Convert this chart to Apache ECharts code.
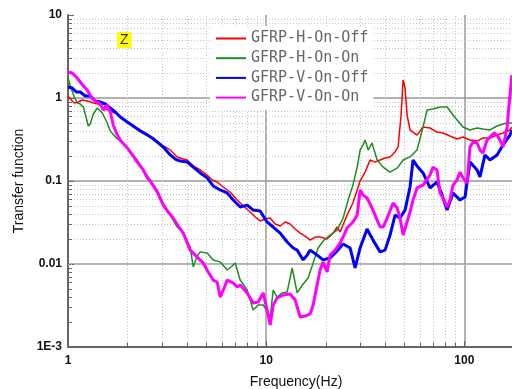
<!DOCTYPE html>
<html>
<head>
<meta charset="utf-8">
<script src="https://cdn.jsdelivr.net/npm/echarts@6/dist/echarts.min.js"></script>
<style>html,body{margin:0;padding:0;background:#fff}#c{width:512px;height:389px}</style>
</head>
<body>
<div id="c"></div>
<script>
// ---- data ----
var seriesNames = ['GFRP-H-On-Off', 'GFRP-H-On-On', 'GFRP-V-On-Off', 'GFRP-V-On-On'];

var hOnOffFreq = [1.00,1.039,1.076,1.127,1.181,1.251,1.342,1.422,1.507,1.634,1.773,1.878,1.991,2.135,2.316,2.512,2.661,2.921,3.095,3.281,3.558,3.815,3.997,4.285,4.647,5.04,5.34,5.66,6.07,6.584,7.14,7.66,8.305,8.801,9.327,9.885,10.48,11.10,11.77,12.47,13.21,14.0,14.84,15.73,16.67,17.66,18.72,20.3,21.77,22.8,23.61,25.6,27.4,29.78,31.56,33.45,35.45,37.57,39.81,42.19,44.71,46.3,47.95,49.1,50.21,51.4,53.21,57.7,61.9,67.12,72.8,78.1,84.66,91.9,98.5,106.8,115.9,124.1,134.7,146.2,156.7,169.9,173.9];
var hOnOffVal = [1.057,0.946,0.870,0.895,0.946,0.920,0.870,0.847,0.758,0.697,0.641,0.574,0.514,0.448,0.412,0.368,0.330,0.272,0.257,0.236,0.195,0.184,0.179,0.152,0.136,0.118,0.103,0.0973,0.0847,0.0737,0.059,0.050,0.0423,0.0368,0.033,0.0348,0.0358,0.0303,0.0287,0.0321,0.0303,0.0264,0.0236,0.0217,0.0194,0.0211,0.0211,0.020,0.0236,0.0279,0.0243,0.0388,0.0543,0.1,0.128,0.179,0.169,0.179,0.189,0.195,0.224,0.257,0.624,1.65,1.32,0.624,0.412,0.358,0.448,0.435,0.389,0.379,0.348,0.321,0.339,0.312,0.303,0.330,0.330,0.358,0.379,0.412,0.448];

var hOnOnFreq = [1.00,1.027,1.076,1.114,1.153,1.194,1.237,1.266,1.296,1.342,1.405,1.489,1.578,1.634,1.773,1.90,2.062,2.236,2.398,2.600,2.82,3.024,3.281,3.558,3.815,4.137,4.285,4.487,4.647,5.04,5.40,5.861,6.36,6.74,6.977,7.394,8.02,8.60,9.11,9.66,10.48,10.85,11.36,12.04,12.76,13.53,14.33,15.37,16.28,17.26,18.29,19.39,21.02,22.8,24.45,25.92,27.4,28.8,29.78,30.8,31.56,32.7,34.2,36.3,38.9,42.19,45.8,49.1,53.21,57.7,61.9,64.9,69.5,75.38,81.8,87.7,91.9,98.5,106.8,115.9,124.1,134.7,146.2,156.7,164.4,173.9];
var hOnOnVal = [1.74,1.395,1.028,0.870,0.847,0.779,0.574,0.460,0.486,0.641,0.758,0.660,0.50,0.40,0.321,0.287,0.224,0.179,0.136,0.103,0.0777,0.0543,0.0388,0.0279,0.0236,0.016,0.0092,0.0125,0.0140,0.0136,0.0112,0.0106,0.00847,0.00946,0.0103,0.00641,0.00486,0.00279,0.00321,0.00321,0.0023,0.00486,0.0040,0.00448,0.0046,0.00895,0.00448,0.00574,0.00678,0.0103,0.0156,0.0189,0.0223,0.0256,0.0358,0.0589,0.0892,0.147,0.236,0.272,0.312,0.236,0.287,0.179,0.147,0.128,0.143,0.179,0.195,0.236,0.448,0.717,0.737,0.779,0.779,0.624,0.543,0.448,0.412,0.435,0.423,0.412,0.460,0.486,0.50,0.50];

var vOnOffFreq = [1.00,1.051,1.101,1.153,1.222,1.296,1.373,1.455,1.542,1.634,1.732,1.835,1.991,2.135,2.316,2.512,2.661,2.82,3.024,3.281,3.476,3.684,3.997,4.285,4.647,5.04,5.40,5.861,6.36,6.82,7.394,8.02,8.60,9.327,10.1,10.85,11.77,12.76,13.69,14.33,15.37,16.1,16.67,18.08,19.39,21.02,22.8,24.45,26.52,28.1,29.78,32.3,34.6,37.57,39.81,42.19,44.71,47.38,50.21,53.21,55.1,57.7,61.9,67.12,72.8,77.2,81.8,87.7,95.08,100.8,106.8,115.9,119.9,127.1,134.7,146.2,156.7,169.9,173.9];
var vOnOffVal = [1.357,1.32,1.18,1.18,1.057,1.057,0.92,0.895,0.847,0.758,0.678,0.590,0.514,0.46,0.400,0.358,0.330,0.295,0.257,0.206,0.184,0.174,0.169,0.147,0.125,0.109,0.0871,0.078,0.0717,0.059,0.0486,0.0512,0.0446,0.0435,0.0321,0.0279,0.0236,0.0184,0.0156,0.0147,0.0112,0.0128,0.0147,0.0128,0.0112,0.0118,0.0144,0.0174,0.0156,0.00895,0.0156,0.0264,0.0194,0.0140,0.0147,0.0223,0.0388,0.0358,0.0446,0.0847,0.179,0.152,0.125,0.0824,0.0973,0.0676,0.0446,0.0717,0.0589,0.0642,0.169,0.136,0.112,0.206,0.179,0.206,0.272,0.358,0.412];

var vOnOnFreq = [1.00,1.051,1.101,1.153,1.208,1.251,1.311,1.373,1.455,1.507,1.578,1.634,1.692,1.773,1.835,1.991,2.135,2.236,2.398,2.512,2.600,2.82,3.024,3.205,3.396,3.599,3.815,3.997,4.137,4.487,4.81,5.10,5.40,5.66,5.861,6.14,6.36,6.82,7.14,7.394,8.02,8.60,9.11,9.66,10.1,10.48,10.85,11.36,12.18,13.21,14.0,14.84,15.73,16.67,17.26,18.08,18.72,19.39,20.3,21.02,22.28,23.61,24.7,25.6,27.4,28.8,29.78,30.8,32.3,33.45,34.6,36.3,37.57,38.9,40.8,43.7,45.8,47.38,49.1,51.4,53.21,55.1,57.7,61.9,67.12,69.5,72.8,75.38,79.0,81.8,84.66,87.7,91.9,95.08,98.5,103.2,106.8,110.7,115.9,119.9,124.1,130.2,134.7,141.2,146.2,151.2,156.7,160.3,164.4,169.9,173.9];
var vOnOnVal = [2.06,2.0,1.79,1.56,1.357,1.248,1.028,0.92,0.847,0.717,0.823,0.678,0.473,0.358,0.312,0.25,0.20,0.169,0.136,0.109,0.10,0.0737,0.0512,0.0423,0.0358,0.0287,0.0236,0.0179,0.0147,0.0121,0.0103,0.008,0.0064,0.00607,0.0040,0.00514,0.0064,0.0059,0.00528,0.0056,0.00448,0.00339,0.00348,0.00448,0.0028,0.00184,0.0032,0.00389,0.00423,0.00435,0.0037,0.0023,0.00236,0.0025,0.0032,0.0056,0.0085,0.01057,0.008,0.0128,0.0147,0.0179,0.0223,0.0272,0.0321,0.0388,0.0777,0.0676,0.0624,0.0528,0.0446,0.0338,0.0279,0.0279,0.0358,0.0543,0.0473,0.0358,0.0223,0.0321,0.0423,0.0589,0.0824,0.0892,0.118,0.147,0.136,0.0717,0.0589,0.0486,0.0589,0.0892,0.103,0.128,0.109,0.0946,0.257,0.295,0.287,0.236,0.217,0.312,0.339,0.379,0.358,0.312,0.257,0.330,0.448,1.087,1.89];

var xMinorValues = [2,3,4,5,6,7,8,9,20,30,40,50,60,70,80,90];
var yMinorValues = [0.002,0.003,0.004,0.005,0.006,0.007,0.008,0.009,0.02,0.03,0.04,0.05,0.06,0.07,0.08,0.09,0.2,0.3,0.4,0.5,0.6,0.7,0.8,0.9,2,3,4,5,6,7,8,9];

// ---- build ----
function zip(f, v) {
  var n = Math.min(f.length, v.length), out = [];
  for (var i = 0; i < n; i++) out.push([f[i], v[i]]);
  return out;
}
function decLabel(v) {
  var e = Math.round(Math.log10(v));
  if (e === -3) return '1E-3';
  if (e >= 0) return String(Math.pow(10, e));
  return '0.' + new Array(-e).join('0') + '1';
}
var X_MIN = 1, X_MAX = 200, Y_MIN = 0.001, Y_MAX = 10;
var gridMarks = [];
xMinorValues.forEach(function (v) { gridMarks.push({ xAxis: v }); });
yMinorValues.forEach(function (v) { gridMarks.push({ yAxis: v }); });

// short minor ticks drawn inside along the axes (tick length ~ 0.025 decade in x, 0.06 decade in y)
var tickMarks = [];
xMinorValues.forEach(function (v) {
  tickMarks.push([{ coord: [v, Y_MIN] }, { coord: [v, Y_MIN * Math.pow(10, 0.055)] }]);
});
yMinorValues.forEach(function (v) {
  tickMarks.push([{ coord: [X_MIN, v] }, { coord: [X_MIN * Math.pow(10, 0.02), v] }]);
});

var colors = ['#ff0000', '#1e8c1e', '#0000ff', '#ff00ff'];
var widths = [1.5, 1.5, 3, 3];
var datasets = [zip(hOnOffFreq, hOnOffVal), zip(hOnOnFreq, hOnOnVal), zip(vOnOffFreq, vOnOffVal), zip(vOnOnFreq, vOnOnVal)];

var series = seriesNames.map(function (name, i) {
  var s = {
    name: name, type: 'line', data: datasets[i], showSymbol: false, symbol: 'none',
    lineStyle: { color: colors[i], width: widths[i] }, itemStyle: { color: colors[i] },
    animation: false, z: 3 + i
  };
  if (i === 0) {
    s.markLine = {
      silent: true, symbol: 'none', animation: false, z: 1,
      label: { show: false },
      lineStyle: { type: [1, 2], color: '#c4c4c4', width: 1 },
      emphasis: { disabled: true },
      data: gridMarks
    };
  }
  if (i === 1) {
    s.markLine = {
      silent: true, symbol: 'none', animation: false, z: 2,
      label: { show: false },
      lineStyle: { type: 'solid', color: '#666', width: 1 },
      emphasis: { disabled: true },
      data: tickMarks
    };
  }
  return s;
});

var chart = echarts.init(document.getElementById('c'), null, { renderer: 'canvas' });
chart.setOption({
  animation: false,
  backgroundColor: '#fff',
  grid: { left: 68, right: -12, top: 15, bottom: 42, containLabel: false, outerBoundsMode: 'none' },
  xAxis: {
    type: 'log', logBase: 10, min: X_MIN, max: X_MAX,
    name: 'Frequency(Hz)', nameLocation: 'middle', nameGap: 28,
    nameTextStyle: { fontSize: 14, color: '#111', fontFamily: 'Liberation Sans' },
    axisLine: { lineStyle: { color: '#666', width: 2 } },
    axisTick: { show: true, inside: true, length: 6, lineStyle: { color: '#666' } },
    axisLabel: { formatter: decLabel, fontSize: 12, fontWeight: 'bold', color: '#111', margin: 8, fontFamily: 'Liberation Sans', showMaxLabel: false },
    splitLine: { show: true, showMaxLine: false, lineStyle: { color: '#999', width: 1.5 } }
  },
  yAxis: {
    type: 'log', logBase: 10, min: Y_MIN, max: Y_MAX,
    name: 'Transfer function', nameLocation: 'middle', nameGap: 42, nameRotate: 90,
    nameTextStyle: { fontSize: 14, color: '#111', fontFamily: 'Liberation Sans' },
    axisLine: { lineStyle: { color: '#666', width: 2 } },
    axisTick: { show: true, inside: true, length: 6, lineStyle: { color: '#666' } },
    axisLabel: { formatter: decLabel, fontSize: 12, fontWeight: 'bold', color: '#111', margin: 6, fontFamily: 'Liberation Sans' },
    splitLine: { show: true, showMaxLine: false, lineStyle: { color: '#999', width: 1.5 } }
  },
  legend: {
    data: seriesNames, orient: 'vertical', left: 210, top: 26,
    backgroundColor: '#fff', padding: [5, 5, 5, 5],
    itemWidth: 30, itemHeight: 14, itemGap: 4.7,
    itemStyle: { opacity: 0, color: 'rgba(0,0,0,0)', borderWidth: 0 },
    textStyle: { fontFamily: 'DejaVu Sans Mono', fontSize: 15, color: '#666' },
    selectedMode: false
  },
  graphic: [{
    type: 'text', left: 117, top: 32, z: 10,
    style: { text: 'Z', fontSize: 14, fontFamily: 'Liberation Sans', fill: '#333', backgroundColor: '#ffff00', padding: [1, 3, 1, 3] }
  }],
  series: series
});
</script>
</body>
</html>
